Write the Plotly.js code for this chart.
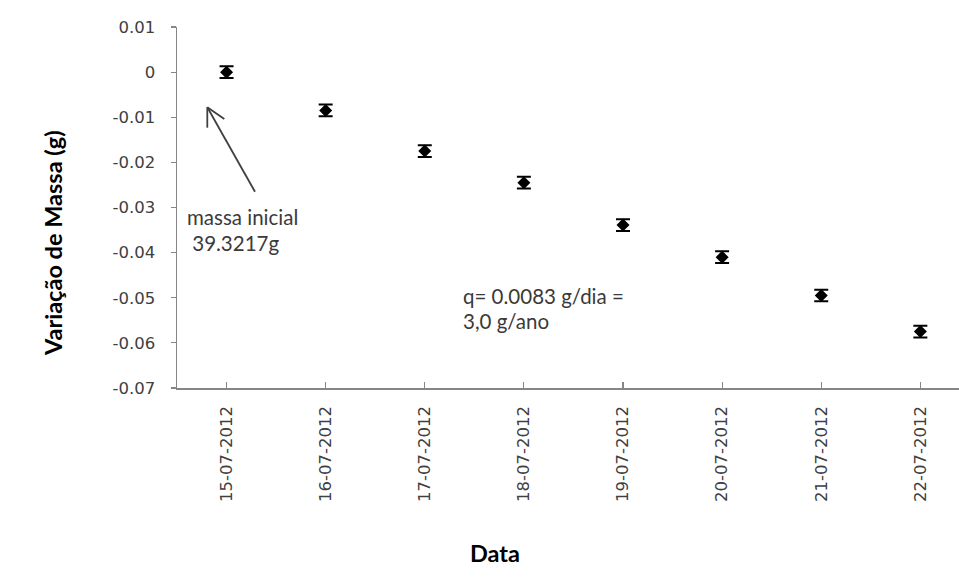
<!DOCTYPE html>
<html>
<head>
<meta charset="utf-8">
<script src="https://cdn.plot.ly/plotly-3.0.1.min.js"></script>
<style>html,body{margin:0;padding:0;background:#fff;}#chart{width:959px;height:586px;}</style>
</head>
<body>
<div id="chart"></div>
<script>
// ---- data ----
const dates = ["15-07-2012","16-07-2012","17-07-2012","18-07-2012","19-07-2012","20-07-2012","21-07-2012","22-07-2012"];
const massVariation = [0, -0.0085, -0.0175, -0.0245, -0.0339, -0.0410, -0.0495, -0.0575];
const errorValues = [0.0013, 0.0013, 0.0013, 0.0013, 0.0013, 0.0013, 0.0013, 0.0013];
const yTickValues = [0.01, 0, -0.01, -0.02, -0.03, -0.04, -0.05, -0.06, -0.07];
const yTickLabels = ["0.01", "0", "-0.01", "-0.02", "-0.03", "-0.04", "-0.05", "-0.06", "-0.07"];
const yTitle = "Variação de Massa (g)";
const xTitle = "Data";
const noteInitial = ["massa inicial", " 39.3217g"];
const noteRate = ["q= 0.0083 g/dia =", "3,0 g/ano"];

// ---- layout helpers (pixel -> paper) ----
const L = 177, T = 27, W = 782, H = 361;
const px = v => (v - L) / W;
const py = v => (T + H - v) / H;

const trace = {
  type: 'scatter', mode: 'markers',
  x: dates, y: massVariation,
  marker: {symbol: 'diamond', size: 10, color: '#000'},
  error_y: {type: 'data', array: errorValues, visible: true, color: '#000', thickness: 2, width: 7},
  showlegend: false, hoverinfo: 'skip'
};

const tickFont = {family: 'DejaVu Sans', size: 16.5, color: '#404040'};
const noteFont = {family: 'Lato', size: 20.5, color: '#3a3a3a'};
const titleFont = {family: 'Lato', size: 23.5, color: '#000', weight: 'bold'};

const layout = {
  width: 959, height: 586,
  margin: {l: L, r: 0, t: T, b: 586 - T - H, pad: 0},
  paper_bgcolor: '#fff', plot_bgcolor: '#fff',
  showlegend: false,
  xaxis: {
    type: 'category', range: [-0.5, 7.39],
    showline: true, linecolor: '#868686', linewidth: 1.5,
    ticks: 'inside', ticklen: 6, tickcolor: '#868686', tickwidth: 1.2,
    tickangle: -90, tickfont: tickFont, ticklabelstandoff: 10,
    showgrid: false, zeroline: false, fixedrange: true
  },
  yaxis: {
    range: [-0.07, 0.01],
    tickvals: yTickValues, ticktext: yTickLabels,
    showline: true, linecolor: '#868686', linewidth: 1.5,
    ticks: 'outside', ticklen: 5, tickcolor: '#868686', tickwidth: 1.2,
    tickfont: tickFont, ticklabelstandoff: 12,
    showgrid: false, zeroline: false, fixedrange: true
  },
  shapes: [
    {type: 'line', xref: 'paper', yref: 'paper', x0: px(255), y0: py(191.7), x1: px(207.3), y1: py(107.3), line: {color: '#404040', width: 1.8}},
    {type: 'line', xref: 'paper', yref: 'paper', x0: px(207.3), y0: py(107.3), x1: px(224.3), y1: py(119), line: {color: '#404040', width: 1.8}},
    {type: 'line', xref: 'paper', yref: 'paper', x0: px(207.3), y0: py(107.3), x1: px(207.3), y1: py(127.7), line: {color: '#404040', width: 1.8}}
  ],
  annotations: [
    {xref: 'paper', yref: 'paper', x: px(185), y: py(216.7), xanchor: 'left', yanchor: 'middle', text: noteInitial[0], showarrow: false, font: noteFont},
    {xref: 'paper', yref: 'paper', x: px(185), y: py(243), xanchor: 'left', yanchor: 'middle', text: '&nbsp;' + noteInitial[1].trim(), showarrow: false, font: noteFont},
    {xref: 'paper', yref: 'paper', x: px(461), y: py(296), xanchor: 'left', yanchor: 'middle', text: noteRate[0], showarrow: false, font: noteFont},
    {xref: 'paper', yref: 'paper', x: px(461), y: py(321), xanchor: 'left', yanchor: 'middle', text: noteRate[1], showarrow: false, font: noteFont},
    {xref: 'paper', yref: 'paper', x: px(495), y: py(553), xanchor: 'center', yanchor: 'middle', text: xTitle, showarrow: false, font: titleFont},
    {xref: 'paper', yref: 'paper', x: px(53), y: py(243), xanchor: 'center', yanchor: 'middle', textangle: -90, text: yTitle, showarrow: false, font: titleFont}
  ]
};

Plotly.newPlot('chart', [trace], layout, {displayModeBar: false, staticPlot: true});
</script>
</body>
</html>
